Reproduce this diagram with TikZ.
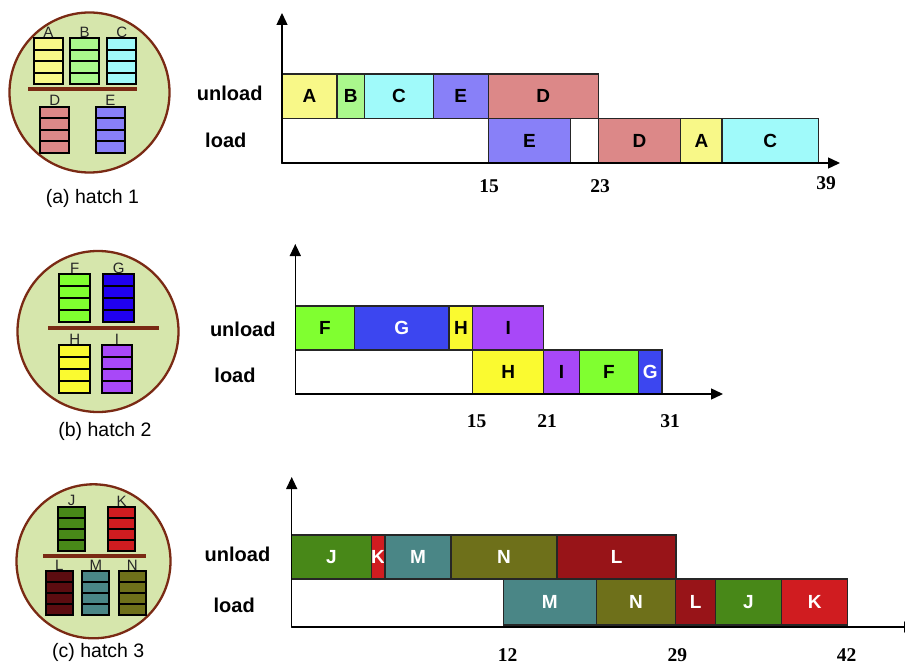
\documentclass[tikz,border=0pt]{standalone}
\usepackage{fontspec}
\setmainfont{Liberation Sans}
\newfontfamily\tickfont{Liberation Serif}
\usepackage{xcolor}
\usepackage{tikz}
\usetikzlibrary{arrows.meta}
\usetikzlibrary{positioning}
\usetikzlibrary{calc}

\definecolor{hatchfill}{RGB}{214,230,172}
\definecolor{hatchrim}{RGB}{122,42,20}
\definecolor{colA}{RGB}{248,248,136}
\definecolor{colB}{RGB}{170,248,140}
\definecolor{colC}{RGB}{160,250,250}
\definecolor{colD}{RGB}{220,136,136}
\definecolor{colE}{RGB}{136,128,248}
\definecolor{colF}{RGB}{128,255,48}
\definecolor{colG}{RGB}{60,70,240}
\definecolor{colGs}{RGB}{32,0,240}
\definecolor{colH}{RGB}{250,250,48}
\definecolor{colI}{RGB}{168,72,248}
\definecolor{colJ}{RGB}{72,136,24}
\definecolor{colK}{RGB}{208,28,32}
\definecolor{colL}{RGB}{152,20,24}
\definecolor{colLs}{RGB}{92,12,16}
\definecolor{colM}{RGB}{74,134,134}
\definecolor{colN}{RGB}{110,112,26}

\begin{document}
\begin{tikzpicture}[x=1pt, y=-1pt,
		hatch/.style = {circle, draw=hatchrim, line width=2.3pt, fill=hatchfill, inner sep=0pt, outer sep=0pt},
		shelf/.style = {draw=hatchrim, line width=4pt},
		stack/.style = {rectangle, draw, line width=2pt, inner sep=0pt, outer sep=0pt,
			path picture={\foreach \k in {1,2,3}
				\draw[line width=1.8pt] ($(path picture bounding box.north west)!\k/4!(path picture bounding box.south west)$)
					-- ($(path picture bounding box.north east)!\k/4!(path picture bounding box.south east)$);}},
		tag/.style = {inner sep=0pt, text=black!85, font=\fontsize{15}{15}\selectfont},
		caption/.style = {inner sep=0pt, font=\fontsize{19.5}{19.5}\selectfont},
		job/.style = {rectangle, draw=black!85, line width=1.3pt, inner sep=0pt, outer sep=0pt,
			anchor=north west, font=\fontsize{19}{19}\selectfont\bfseries},
		row/.style = {inner sep=0pt, font=\fontsize{20}{20}\selectfont\bfseries},
		tick/.style = {inner sep=0pt, font=\fontsize{19.5}{19.5}\selectfont\tickfont\bfseries},
		axis/.style = {line width=1.4pt, -{Triangle[length=12pt, width=11pt]}}]

	\useasboundingbox (0,0) rectangle (905,666);

	% hatch 1
	\node[hatch, minimum size=160pt] (h1) at (89.5,92.5) {};
	\coordinate (b1l) at (28.3,89.3);
	\coordinate (b1r) at (137.3,89.3);
	\draw[shelf] (b1l) -- (b1r);
	\begin{scope}[stack/.append style = {minimum width=28.7pt, minimum height=46pt}]
		\node[stack, fill=colA] (sA) at (48.3,61.3) {};
		\node[stack, fill=colB] (sB) at (84.7,61.3) {};
		\node[stack, fill=colC] (sC) at (121.7,61.3) {};
		\node[stack, fill=colD] (sD) at (54.7,129.7) {};
		\node[stack, fill=colE] (sE) at (110.3,129.7) {};
		\node[tag, above=0.5pt of sA] (tA) {A};
		\node[tag, above=0.5pt of sB] (tB) {B};
		\node[tag, above=0.5pt of sC] (tC) {C};
		\node[tag, above=0.5pt of sD] (tD) {D};
		\node[tag, above=0.5pt of sE] (tE) {E};
	\end{scope}
	\node[caption] (cap1) at (92.5,198.3) {(a) hatch 1};

	% hatch 2
	\node[hatch, minimum size=161pt] (h2) at (98,331.5) {};
	\coordinate (b2l) at (48.3,327.7);
	\coordinate (b2r) at (159.3,327.7);
	\draw[shelf] (b2l) -- (b2r);
	\begin{scope}[stack/.append style = {minimum width=30.7pt, minimum height=48pt}]
		\node[stack, fill=colF] (sF) at (74.7,298.2) {};
		\node[stack, fill=colGs] (sG) at (118.7,298.2) {};
		\node[stack, fill=colH] (sH) at (74.7,368.8) {};
		\node[stack, fill=colI] (sI) at (117,368.8) {};
		\node[tag, above=0.5pt of sF] (tF) {F};
		\node[tag, above=0.5pt of sG] (tG) {G};
		\node[tag, above=0.5pt of sH] (tH) {H};
		\node[tag, above=0.5pt of sI] (tI) {I};
	\end{scope}
	\node[caption] (cap2) at (105,431.7) {(b) hatch 2};

	% hatch 3
	\node[hatch, minimum size=154pt] (h3) at (93.5,561.3) {};
	\coordinate (b3l) at (43.3,556);
	\coordinate (b3r) at (146,556);
	\draw[shelf] (b3l) -- (b3r);
	\begin{scope}[stack/.append style = {minimum width=27pt, minimum height=44pt}]
		\node[stack, fill=colJ] (sJ) at (71.7,528.7) {};
		\node[stack, fill=colK] (sK) at (121.7,528.7) {};
		\node[stack, fill=colLs] (sL) at (59.2,593.2) {};
		\node[stack, fill=colM] (sM) at (95.8,593.2) {};
		\node[stack, fill=colN] (sN) at (132.3,593.2) {};
		\node[tag, above=0.5pt of sJ] (tJ) {J};
		\node[tag, above=0.5pt of sK] (tK) {K};
		\node[tag, above=0.5pt of sL] (tL) {L};
		\node[tag, above=0.5pt of sM] (tM) {M};
		\node[tag, above=0.5pt of sN] (tN) {N};
	\end{scope}
	\node[caption] (cap3) at (98.3,652.5) {(c) hatch 3};

	% schedule 1
	\begin{scope}[job/.append style = {minimum height=44.5pt}]
		\node[job, fill=colA, minimum width=55pt] (u1A) at (282,74) {A};
		\node[job, fill=colB, minimum width=27.5pt, right=0pt of u1A] (u1B) {B};
		\node[job, fill=colC, minimum width=68.75pt, right=0pt of u1B] (u1C) {C};
		\node[job, fill=colE, minimum width=55pt, right=0pt of u1C] (u1E) {E};
		\node[job, fill=colD, minimum width=110pt, right=0pt of u1E] (u1D) {D};
		\node[job, fill=white, minimum width=206.25pt] (l1idle) at (282,118.5) {};
		\node[job, fill=colE, minimum width=82.5pt, right=0pt of l1idle] (l1E) {E};
		\node[job, fill=colD, minimum width=82.5pt] (l1D) at (598.25,118.5) {D};
		\node[job, fill=colA, minimum width=41.25pt, right=0pt of l1D] (l1A) {A};
		\node[job, fill=colC, minimum width=96.25pt, right=0pt of l1A] (l1C) {C};
	\end{scope}
	\coordinate (o1) at (282,163);
	\coordinate (y1) at (282,13);
	\coordinate (x1) at (840,163);
	\draw[axis] (o1) -- (y1);
	\draw[axis] (o1) -- (x1);
	\node[row] (r1u) at (229.7,93) {unload};
	\node[row] (r1l) at (225.8,140) {load};
	\node[tick] (k1a) at (489,186) {15};
	\node[tick] (k1b) at (600,186) {23};
	\node[tick] (k1c) at (826,183) {39};

	% schedule 2
	\begin{scope}[job/.append style = {minimum height=44pt}]
		\node[job, fill=colF, minimum width=59.15pt] (u2F) at (295.3,306) {F};
		\node[job, fill=colG, minimum width=94.65pt, text=white, right=0pt of u2F] (u2G) {G};
		\node[job, fill=colH, minimum width=23.65pt, right=0pt of u2G] (u2H) {H};
		\node[job, fill=colI, minimum width=71pt, right=0pt of u2H] (u2I) {I};
		\node[job, fill=white, minimum width=177.45pt] (l2idle) at (295.3,350) {};
		\node[job, fill=colH, minimum width=71pt, right=0pt of l2idle] (l2H) {H};
		\node[job, fill=colI, minimum width=35.5pt, right=0pt of l2H] (l2I) {I};
		\node[job, fill=colF, minimum width=59.15pt, right=0pt of l2I] (l2F) {F};
		\node[job, fill=colG, minimum width=23.65pt, text=white, right=0pt of l2F] (l2G) {G};
	\end{scope}
	\coordinate (o2) at (295.3,394);
	\coordinate (y2) at (295.3,244);
	\coordinate (x2) at (723,394);
	\draw[axis] (o2) -- (y2);
	\draw[axis] (o2) -- (x2);
	\node[row] (r2u) at (242.8,329) {unload};
	\node[row] (r2l) at (235,375.8) {load};
	\node[tick] (k2a) at (476.5,421.5) {15};
	\node[tick] (k2b) at (547,421) {21};
	\node[tick] (k2c) at (670,421) {31};

	% schedule 3
	\begin{scope}[job/.append style = {minimum height=44pt, text=white}]
		\node[job, fill=colJ, minimum width=79.45pt] (u3J) at (291.7,535) {J};
		\node[job, fill=colK, minimum width=13.25pt, right=0pt of u3J] (u3K) {K};
		\node[job, fill=colM, minimum width=66.2pt, right=0pt of u3K] (u3M) {M};
		\node[job, fill=colN, minimum width=105.9pt, right=0pt of u3M] (u3N) {N};
		\node[job, fill=colL, minimum width=119.15pt, right=0pt of u3N] (u3L) {L};
		\node[job, fill=white, minimum width=211.85pt, minimum height=48pt] (l3idle) at (291.7,579) {};
		\node[job, fill=colM, minimum width=92.7pt, minimum height=46pt] (l3M) at (503.55,579) {M};
		\node[job, fill=colN, minimum width=79.45pt, minimum height=46pt, right=0pt of l3M] (l3N) {N};
		\node[job, fill=colL, minimum width=39.7pt, minimum height=46pt, right=0pt of l3N] (l3L) {L};
		\node[job, fill=colJ, minimum width=66.2pt, minimum height=46pt, right=0pt of l3L] (l3J) {J};
		\node[job, fill=colK, minimum width=66.2pt, minimum height=46pt, right=0pt of l3J] (l3K) {K};
	\end{scope}
	\coordinate (o3) at (291.7,627);
	\coordinate (y3) at (291.7,477);
	\coordinate (x3) at (916,627);
	\draw[axis] (o3) -- (y3);
	\draw[axis] (o3) -- (x3);
	\node[row] (r3u) at (237.5,554.2) {unload};
	\node[row] (r3l) at (234.2,605.8) {load};
	\node[tick] (k3a) at (507.5,655.5) {12};
	\node[tick] (k3b) at (677.3,655.5) {29};
	\node[tick] (k3c) at (846.7,655.5) {42};
\end{tikzpicture}
\end{document}
